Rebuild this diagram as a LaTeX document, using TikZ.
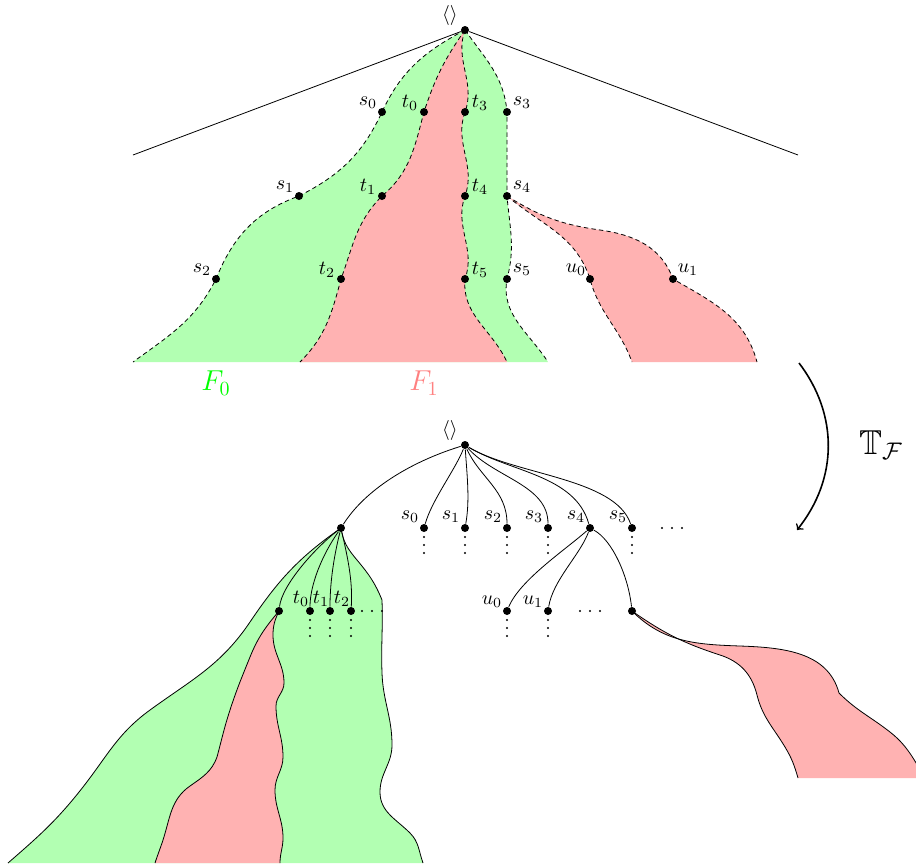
\documentclass[tikz,border=0pt]{standalone}
\usepackage{amssymb}
\pgfdeclarelayer{bg}
\pgfsetlayers{bg,main}
\begin{document}
\begin{tikzpicture}[x=0.5pt,y=-0.5pt,line width=0.5pt,
  dot/.style={circle,fill=black,inner sep=0pt,minimum size=4pt},
  lbl/.style={inner sep=0pt},
  bnd/.style={dash pattern=on 2.2pt off 1.6pt},
  gfill/.style={fill=green!30},
  rfill/.style={fill=red!30}]
\useasboundingbox (0,0) rectangle (916,863);
\clip (0,0) rectangle (916,863);
% ---------------- top tree nodes
\node[dot] (T) at (465,30) {};
\node[dot] (s0) at (382,112) {};
\node[dot] (t0) at (424,112) {};
\node[dot] (t3) at (465,112) {};
\node[dot] (s3) at (507,112) {};
\node[dot] (s1) at (299,196) {};
\node[dot] (t1) at (382,196) {};
\node[dot] (t4) at (465,196) {};
\node[dot] (s4) at (507,196) {};
\node[dot] (s2) at (216,279) {};
\node[dot] (t2) at (341,279) {};
\node[dot] (t5) at (465,279) {};
\node[dot] (s5) at (507,279) {};
\node[dot] (u0) at (590,279) {};
\node[dot] (u1) at (673,279) {};
\coordinate (TL) at (133,155);
\coordinate (TR) at (798,155);
\node[lbl] (lT) at ([shift={(-15,-15)}]T) {$\langle\rangle$};
\foreach \n/\s in {s0/s_0,t0/t_0,s1/s_1,t1/t_1,s2/s_2,t2/t_2,u0/u_0}
  \node[lbl] (l\n) at ([shift={(-14,-9)}]\n) {$\s$};
\foreach \n/\s in {t3/t_3,s3/s_3,t4/t_4,s4/s_4,t5/t_5,s5/s_5,u1/u_1}
  \node[lbl] (l\n) at ([shift={(15,-9)}]\n) {$\s$};
\node[lbl,text=green] (F0) at (216,383) {\Large $F_0$};
\node[lbl,text=red!50] (F1) at (424,383) {\Large $F_1$};
% ---------------- bottom tree nodes
\node[dot] (B) at (465,445) {};
\node[dot] (L) at (341,528) {};
\node[dot] (b0) at (424,528) {};
\node[dot] (b1) at (465,528) {};
\node[dot] (b2) at (507,528) {};
\node[dot] (b3) at (548,528) {};
\node[dot] (b4) at (590,528) {};
\node[dot] (b5) at (632,528) {};
\node[dot] (c0) at (507,611) {};
\node[dot] (c1) at (548,611) {};
\node[dot] (R) at (632,611) {};
\node[dot] (P) at (279,611) {};
\node[dot] (d0) at (310,611) {};
\node[dot] (d1) at (330,611) {};
\node[dot] (d2) at (351,611) {};
\node[lbl] (lB) at ([shift={(-15,-15)}]B) {$\langle\rangle$};
\foreach \n/\s in {b0/s_0,b1/s_1,b2/s_2,b3/s_3,b4/s_4,b5/s_5}
  \node[lbl] (l\n) at ([shift={(-14,-11)}]\n) {$\s$};
\foreach \n/\s in {c0/u_0,c1/u_1}
  \node[lbl] (l\n) at ([shift={(-15,-9)}]\n) {$\s$};
\foreach \n/\s in {d0/t_0,d1/t_1,d2/t_2}
  \node[lbl] (l\n) at ([shift={(-9,-12)}]\n) {$\s$};
% dots
\foreach \n in {b0,b1,b2,b3,b5,c0,c1,d0,d1,d2}
  \foreach \k in {9,17,25}
    \fill ([shift={(0,\k)}]\n) circle (0.6pt);
\foreach \k in {11,21,31}
  {\fill ([shift={(\k+19,0)}]b5) circle (0.6pt);
   \fill ([shift={(\k,0)}]d2) circle (0.6pt);
   \fill ([shift={(\k-63,0)}]R) circle (0.6pt);}
% ---------------- curves (forward) and reversed copies for fills
\def\cA{(T.center) to[out=-152,in=65] (s0.center) to[out=-115,in=27] (s1.center) to[out=-160,in=68] (s2.center) to[out=-117,in=36] (133,362)}
\def\cD{(T.center) to[out=-55,in=95] (s3.center) -- (s4.center) to[out=-85,in=75] (s5.center) to[out=-100,in=123] (548,362)}
\def\cDr{(548,362) to[out=123,in=-100] (s5.center) to[out=75,in=-85] (s4.center) -- (s3.center) to[out=95,in=-55] (T.center)}
\def\cB{(T.center) to[out=-125,in=72] (t0.center) to[out=-105,in=40] (t1.center) to[out=-135,in=70] (t2.center) to[out=-105,in=45] (300,362)}
\def\cC{(T.center) to[out=-110,in=70] (t3.center) to[out=-110,in=70] (t4.center) to[out=-110,in=70] (t5.center) to[out=-95,in=115] (507,362)}
\def\cCr{(507,362) to[out=115,in=-95] (t5.center) to[out=70,in=-110] (t4.center) to[out=70,in=-110] (t3.center) to[out=70,in=-110] (T.center)}
\def\cE{(s4.center) to[out=-40,in=108] (u0.center) to[out=-75,in=110] (632,362)}
\def\cF{(s4.center) to[out=-32,in=172] (600,230) to[out=-8,in=110] (u1.center) to[out=-30,in=105] (757,362)}
\def\cFr{(757,362) to[out=105,in=-30] (u1.center) to[out=110,in=-8] (600,230) to[out=172,in=-32] (s4.center)}
\def\cGa{(L.center) to[out=-145,in=56] (250,622) to[out=-124,in=36] (150,710) to[out=-144,in=52] (83,787) to[out=-128,in=41] (8,863)}
\def\cGb{(L.center) to[out=-82,in=130] (357,560) to[out=-50,in=112] (382,600) to[out=-88,in=92] (382,673) to[out=-88,in=90] (392,745) to[out=-90,in=90] (380,792) to[out=-90,in=135] (410,833) to[out=-45,in=110] (423,863)}
\def\cGbr{(423,863) to[out=110,in=-45] (410,833) to[out=135,in=-90] (380,792) to[out=90,in=-90] (392,745) to[out=90,in=-88] (382,673) to[out=92,in=-88] (382,600) to[out=112,in=-50] (357,560) to[out=130,in=-82] (L.center)}
\def\cRa{(P.center) to[out=-130,in=68] (250,657) to[out=-112,in=72] (230,710) to[out=-108,in=75] (217,757) to[out=-110,in=35] (190,786) to[out=-145,in=72] (163,840) to[out=-108,in=72] (155,863)}
\def\cRb{(P.center) to[out=-115,in=90] (273,635) to[out=-90,in=90] (284,683) to[out=-90,in=90] (276,706) to[out=-90,in=90] (283,757) to[out=-90,in=90] (275,790) to[out=-90,in=90] (283,838) to[out=-90,in=90] (280,863)}
\def\cRbr{(280,863) to[out=90,in=-90] (283,838) to[out=90,in=-90] (275,790) to[out=90,in=-90] (283,757) to[out=90,in=-90] (276,706) to[out=90,in=-90] (284,683) to[out=90,in=-90] (273,635) to[out=90,in=-115] (P.center)}
\def\cQa{(R.center) to[out=-45,in=178] (740,646) to[out=-2,in=105] (839,693) to[out=-45,in=142] (890,732) to[out=-38,in=125] (930,785)}
\def\cQb{(R.center) to[out=-35,in=162] (720,655) to[out=-18,in=104] (757,695) to[out=-76,in=121] (785,747) to[out=-59,in=106] (798,778)}
\def\cQbr{(798,778) to[out=106,in=-59] (785,747) to[out=121,in=-76] (757,695) to[out=104,in=-18] (720,655) to[out=162,in=-35] (R.center)}
% ---------------- fills
\begin{pgfonlayer}{bg}
\clip (0,0) rectangle (916,863);
\fill[gfill] \cA -- \cDr -- cycle;
\fill[rfill] \cB -- \cCr -- cycle;
\fill[rfill] \cE -- \cFr -- cycle;
\fill[gfill] \cGa -- \cGbr -- cycle;
\fill[rfill] \cRa -- \cRbr -- cycle;
\fill[rfill] \cQa -- (930,778) -- \cQbr -- cycle;
\end{pgfonlayer}
% ---------------- top boundaries
\draw (T) -- (TL);
\draw (T) -- (TR);
\draw[bnd] \cA;
\draw[bnd] \cD;
\draw[bnd] \cB;
\draw[bnd] \cC;
\draw[bnd] \cE;
\draw[bnd] \cF;
% ---------------- bottom boundaries
\draw \cGa;
\draw \cGb;
\draw \cRa;
\draw \cRb;
\draw \cQa;
\draw \cQb;
% ---------------- bottom tree edges
\draw (B) .. controls (410,462) and (365,490) .. (L);
\draw (B) .. controls (455,470) and (432,500) .. (b0);
\draw (B) .. controls (467,475) and (470,500) .. (b1);
\draw (B) .. controls (480,478) and (507,490) .. (b2);
\draw (B) .. controls (495,478) and (548,485) .. (b3);
\draw (B) .. controls (510,472) and (575,475) .. (b4);
\draw (B) .. controls (515,475) and (615,478) .. (b5);
\draw (b4) .. controls (565,550) and (520,580) .. (c0);
\draw (b4) .. controls (580,555) and (553,580) .. (c1);
\draw (b4) .. controls (612,540) and (628,575) .. (R);
\draw (L) .. controls (315,548) and (282,585) .. (P);
\draw (L) .. controls (322,555) and (310,585) .. (d0);
\draw (L) .. controls (333,560) and (330,585) .. (d1);
\draw (L) .. controls (347,555) and (353,580) .. (d2);
% ---------------- arrow
\coordinate (A1) at (799,363);
\coordinate (A2) at (797,530);
\draw[thick,->] (A1) to[bend left=38] (A2);
\node[lbl] (TF) at (881,445) {\LARGE $\mathbb{T}_{\mathcal{F}}$};
\end{tikzpicture}
\end{document}
